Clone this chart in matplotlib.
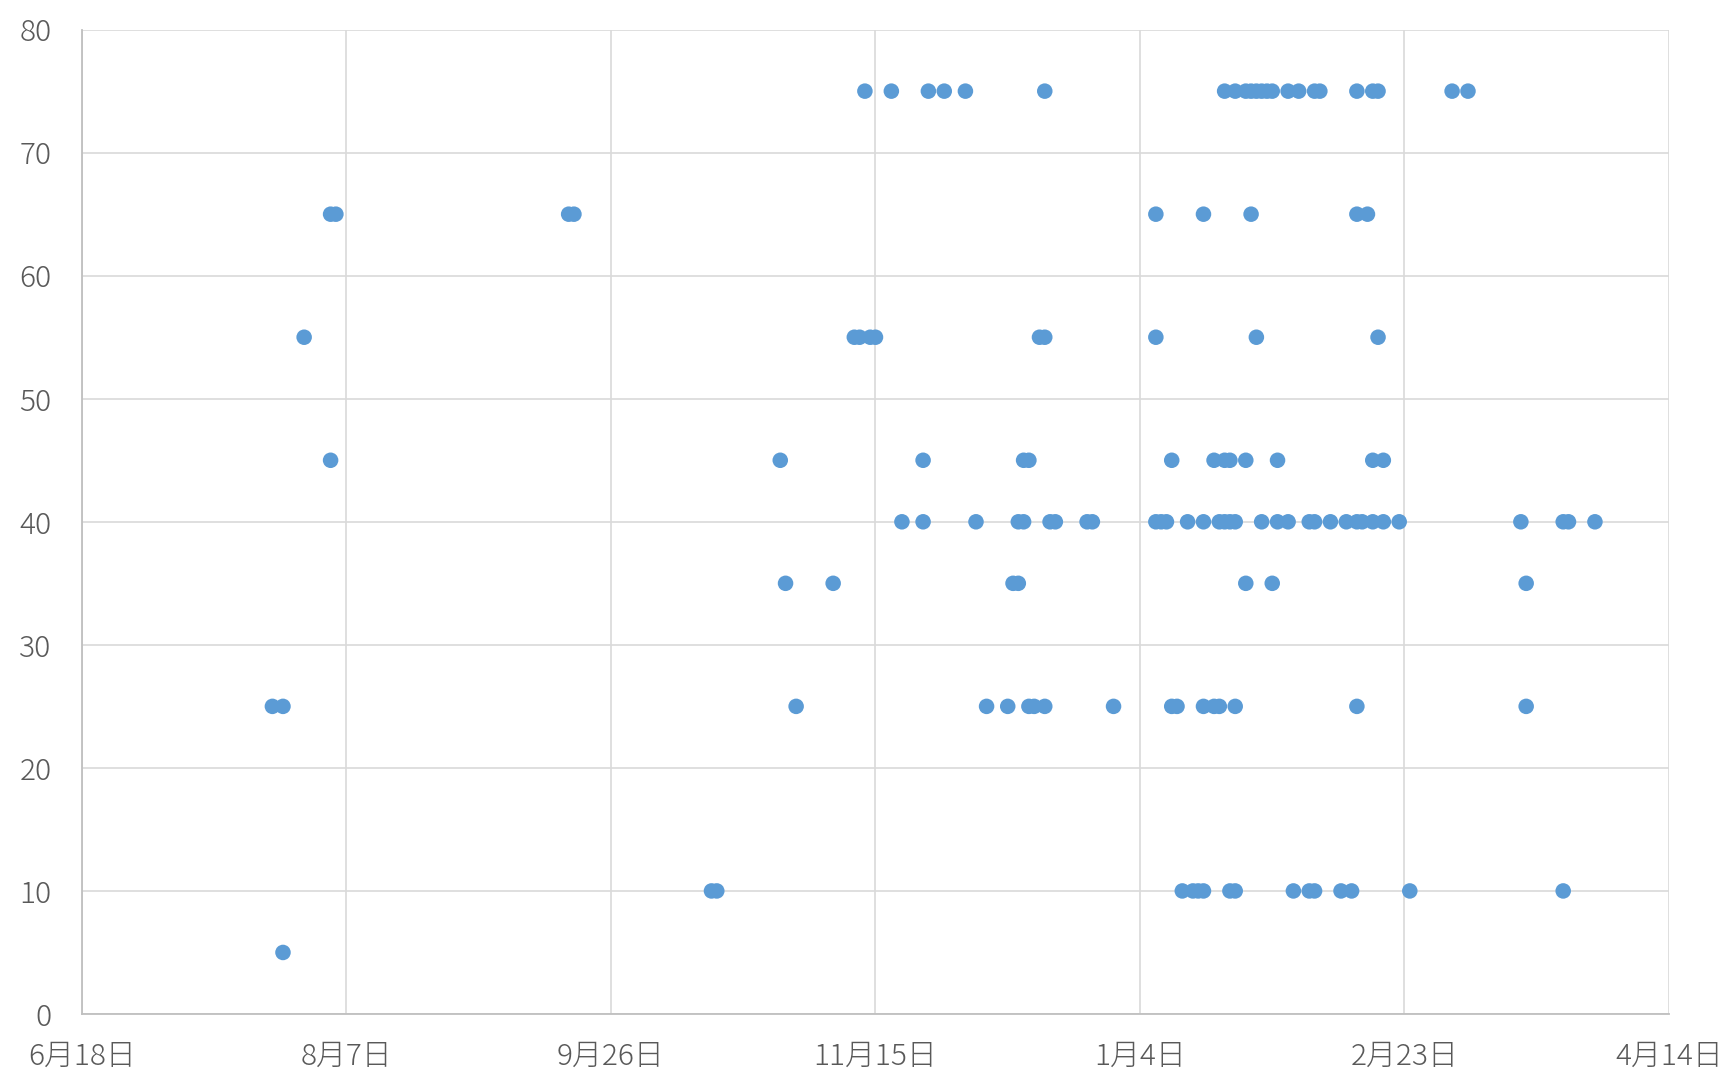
import datetime as dt

import matplotlib

matplotlib.use("Agg")
import matplotlib.dates as mdates
import matplotlib.pyplot as plt
from matplotlib.ticker import FuncFormatter, MultipleLocator

plt.rcParams["font.family"] = ["Noto Sans CJK JP", "DejaVu Sans"]
plt.rcParams["font.weight"] = "light"

# dates, grouped by the value they sit at
dates_75 = ["2020-11-13", "2020-11-18", "2020-11-25", "2020-11-28", "2020-12-02",
            "2020-12-17", "2021-01-20", "2021-01-22", "2021-01-24", "2021-01-25",
            "2021-01-26", "2021-01-27", "2021-01-28", "2021-01-29", "2021-02-01",
            "2021-02-03", "2021-02-06", "2021-02-07", "2021-02-14", "2021-02-17",
            "2021-02-18", "2021-03-04", "2021-03-07"]
dates_65 = ["2020-08-04", "2020-08-05", "2020-09-18", "2020-09-19",
            "2021-01-07", "2021-01-16", "2021-01-25", "2021-02-14", "2021-02-16"]
dates_55 = ["2020-07-30", "2020-11-11", "2020-11-12", "2020-11-14", "2020-11-15",
            "2020-12-16", "2020-12-17", "2021-01-07", "2021-01-26", "2021-02-18"]
dates_45 = ["2020-08-04", "2020-10-28", "2020-11-24", "2020-12-13", "2020-12-14",
            "2021-01-10", "2021-01-18", "2021-01-20", "2021-01-21", "2021-01-24",
            "2021-01-30", "2021-02-17", "2021-02-19"]
dates_40 = ["2020-11-20", "2020-11-24", "2020-12-04", "2020-12-12", "2020-12-13",
            "2020-12-18", "2020-12-19", "2020-12-25", "2020-12-26", "2021-01-07",
            "2021-01-08", "2021-01-09", "2021-01-13", "2021-01-16", "2021-01-19",
            "2021-01-20", "2021-01-21", "2021-01-22", "2021-01-27", "2021-01-30",
            "2021-02-01", "2021-02-05", "2021-02-06", "2021-02-09", "2021-02-12",
            "2021-02-14", "2021-02-15", "2021-02-17", "2021-02-19", "2021-02-22",
            "2021-03-17", "2021-03-25", "2021-03-26", "2021-03-31"]
dates_35 = ["2020-10-29", "2020-11-07", "2020-12-11", "2020-12-12", "2021-01-24",
            "2021-01-29", "2021-03-18"]
dates_25 = ["2020-07-24", "2020-07-26", "2020-10-31", "2020-12-06", "2020-12-10",
            "2020-12-14", "2020-12-15", "2020-12-17", "2020-12-30", "2021-01-10",
            "2021-01-11", "2021-01-16", "2021-01-18", "2021-01-19", "2021-01-22",
            "2021-02-14", "2021-03-18"]
dates_10 = ["2020-10-15", "2020-10-16", "2021-01-12", "2021-01-14", "2021-01-15",
            "2021-01-16", "2021-01-21", "2021-01-22", "2021-02-02", "2021-02-05",
            "2021-02-06", "2021-02-11", "2021-02-13", "2021-02-24", "2021-03-25"]
dates_5 = ["2020-07-26"]

levels = {75: dates_75, 65: dates_65, 55: dates_55, 45: dates_45, 40: dates_40,
          35: dates_35, 25: dates_25, 10: dates_10, 5: dates_5}

x_start = dt.date(2020, 6, 18)
x_end = dt.date(2021, 4, 14)

xs, ys = [], []
for val, ds in levels.items():
    for d in ds:
        xs.append(dt.date.fromisoformat(d))
        ys.append(val)

fig = plt.figure(figsize=(17.29, 10.73), dpi=100)
ax = fig.add_axes([0.0474, 0.055, 0.9179, 0.9174])

ax.scatter(xs, ys, s=125, color="#5B9BD5", edgecolors="none", zorder=3)

ax.set_xlim(x_start, x_end)
ax.set_ylim(0, 80)
ticks = [x_start + dt.timedelta(days=50 * k) for k in range(7)]
ax.set_xticks(ticks)
ax.xaxis.set_major_formatter(
    FuncFormatter(lambda v, _: f"{mdates.num2date(v).month}月{mdates.num2date(v).day}日"))
ax.yaxis.set_major_locator(MultipleLocator(10))

ax.grid(True, color="#d9d9d9", lw=1.2, zorder=0)
ax.set_axisbelow(True)
for side in ("top", "right"):
    ax.spines[side].set_visible(False)
for side in ("left", "bottom"):
    ax.spines[side].set_color("#bfbfbf")
    ax.spines[side].set_linewidth(1.3)
ax.tick_params(length=0, labelsize=21.5, colors="#595959")
ax.tick_params(axis="y", pad=22)
ax.tick_params(axis="x", pad=20)

fig.savefig("out.png", dpi=100, facecolor="white")
